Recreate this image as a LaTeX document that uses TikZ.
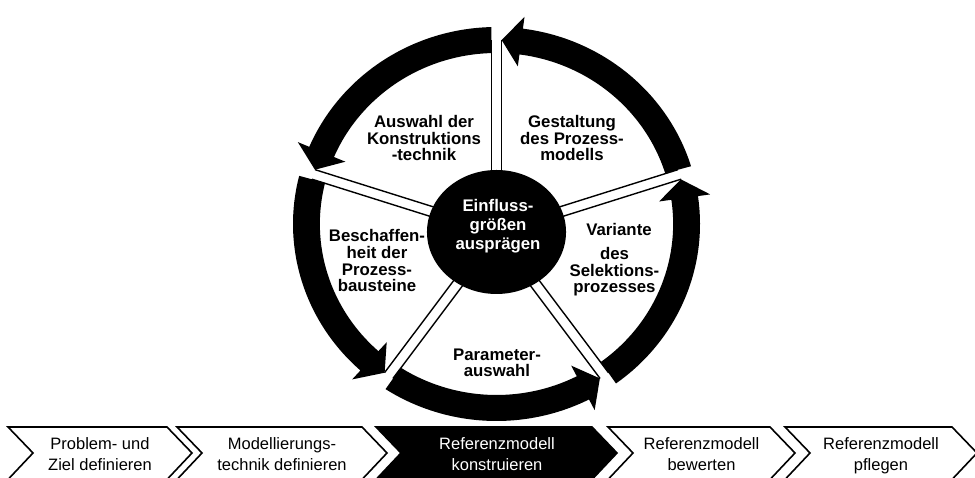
\documentclass[tikz,border=0pt]{standalone}
\usepackage{fontspec}
\setmainfont{Liberation Sans}
\begin{document}
\begin{tikzpicture}[x=1pt,y=1pt,
  sectorlabel/.style={font=\fontsize{16.8}{16.6}\selectfont\bfseries, align=center, anchor=base, inner sep=0pt},
  centerlabel/.style={font=\fontsize{16.8}{19}\selectfont\bfseries, text=white, align=center, anchor=base, inner sep=0pt},
  chevbox/.style={draw=black, line width=1.6pt, fill=white, line join=miter},
  chevdark/.style={chevbox, fill=black},
  chevlabel/.style={font=\fontsize{16.5}{21}\selectfont, align=center, anchor=base, inner sep=0pt},
  spokeline/.style={draw=black, line width=1.4pt},
  ringarrow/.style={fill=black}]
\useasboundingbox (0,0) rectangle (975,478);

\begin{scope}[shift={(496.5,254)}, xscale=1.033]
  % spokes
  \foreach \a/\T in {90/192,162/186.3,234/177.5,306/177.5,18/186.3}{
    \draw[spokeline] ({-5*sin(\a)},{-8+5*cos(\a)}) -- ++(\a:\T);
    \draw[spokeline] ({5*sin(\a)},{-8-5*cos(\a)}) -- ++(\a:\T);
  }
  % ring arrows
  \foreach \s/\e in {304.5/375.6, 15.6/90, 90/164.4, 164.4/235.5, 235.5/304.5}{
    \pgfmathsetmacro\angO{\s+1.454}
    \pgfmathsetmacro\angI{\s+1.675}
    \pgfmathsetmacro\angT{\e-1.557}
    \pgfmathsetmacro\angB{\e-7.46}
    \fill[ringarrow] (\angO:197) arc[start angle=\angO, end angle=\angB, radius=197]
      -- (\angB:209) -- (\angT:184) -- (\angB:159) -- (\angB:171)
      arc[start angle=\angB, end angle=\angI, radius=171] -- cycle;
  }
  % hub
  \fill[black] (0,-8) ellipse [x radius=67.3, y radius=62];
\end{scope}

\node[centerlabel] (einfluss) at (498,228) {Einfluss-\\größen\\ausprägen};
\node[sectorlabel] (auswahl) at (424,317.3) {Auswahl der\\Konstruktions\\-technik};
\node[sectorlabel] (gestaltung) at (572,317.3) {Gestaltung\\des Prozess-\\modells};
\node[sectorlabel] (beschaffen) at (377,186.3) {Beschaffen-\\heit der\\Prozess-\\bausteine};
\node[sectorlabel] (variante) at (619,242) {Variante};
\node[sectorlabel] (selektion) at (614.5,185) {des\\Selektions-\\prozesses};
\node[sectorlabel] (parameter) at (497,101.3) {Parameter-\\auswahl};

% process chevrons
\draw[chevbox] (8,51) -- (167,51) -- (192,25) -- (167,-1.5) -- (8,-1.5) -- (33,25) -- cycle;
\draw[chevbox] (177,51) -- (362,51) -- (387,25) -- (362,-1.5) -- (177,-1.5) -- (202,25) -- cycle;
\draw[chevdark] (376,51) -- (592,51) -- (617,25) -- (592,-1.5) -- (376,-1.5) -- (401,25) -- cycle;
\draw[chevbox] (608,51) -- (770,51) -- (795,25) -- (770,-1.5) -- (608,-1.5) -- (633,25) -- cycle;
\draw[chevbox] (785,51) -- (952,51) -- (977,25) -- (952,-1.5) -- (785,-1.5) -- (810,25) -- cycle;

\node[chevlabel] (p1) at (100,7) {Problem- und\\Ziel definieren};
\node[chevlabel] (p2) at (282,7) {Modellierungs-\\technik definieren};
\node[chevlabel, text=white] (p3) at (497,7) {Referenzmodell\\konstruieren};
\node[chevlabel] (p4) at (701.5,7) {Referenzmodell\\bewerten};
\node[chevlabel] (p5) at (881,7) {Referenzmodell\\pflegen};
\end{tikzpicture}
\end{document}
